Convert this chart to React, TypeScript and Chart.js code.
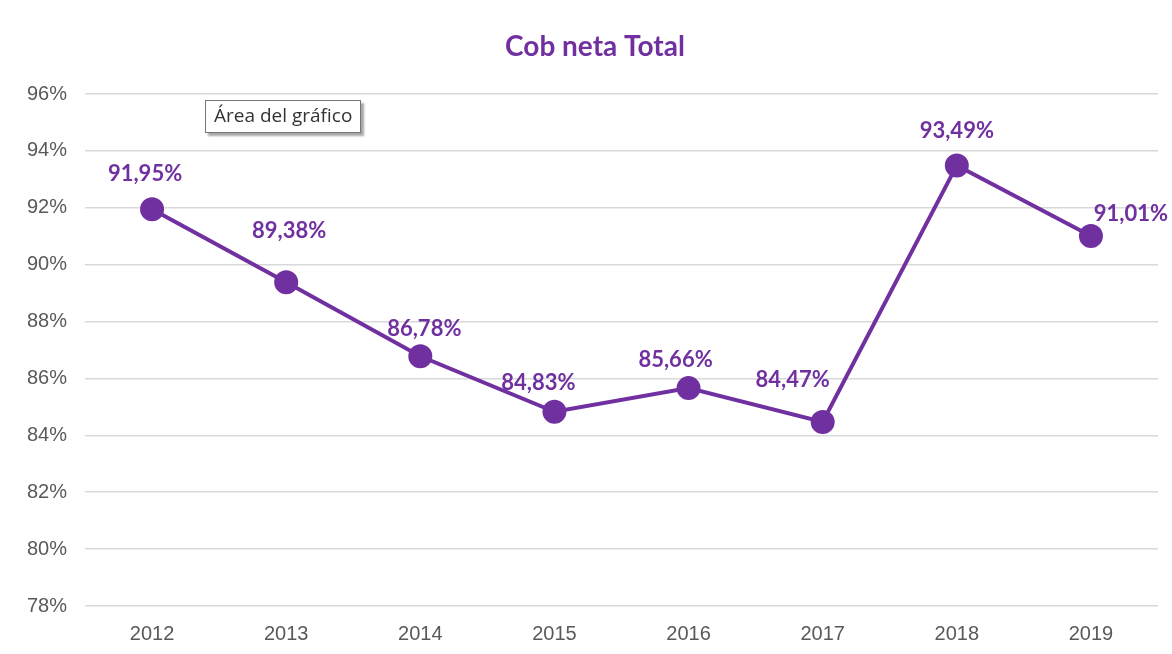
import React, { useEffect, useRef } from "react";
import { Chart, registerables } from "chart.js";

Chart.register(...registerables);

const years = ["2012", "2013", "2014", "2015", "2016", "2017", "2018", "2019"];
const coverage = [91.95, 89.38, 86.78, 84.83, 85.66, 84.47, 93.49, 91.01];
const labelDx = [-7, 3, 4, -16, -13, -30, 0, 40];
const labelDy = [-35, -51, -27, -29, -28, -42, -34, -22];

const PURPLE = "#7030A0";

const fmt = (v: number) => v.toFixed(2).replace(".", ",") + "%";

const labelPlugin = {
  id: "pointLabels",
  afterDatasetsDraw(chart: any) {
    const ctx = chart.ctx;
    const meta = chart.getDatasetMeta(0);
    ctx.save();
    ctx.font = "bold 22px Lato, 'Open Sans', sans-serif";
    ctx.fillStyle = PURPLE;
    ctx.textAlign = "center";
    ctx.textBaseline = "middle";
    meta.data.forEach((pt: any, i: number) => {
      ctx.fillText(fmt(coverage[i]), pt.x + labelDx[i], pt.y + labelDy[i]);
    });
    ctx.restore();
  },
};

const titlePlugin = {
  id: "customTitle",
  afterDraw(chart: any) {
    const ctx = chart.ctx;
    ctx.save();
    ctx.font = "bold 28px Lato, 'Open Sans', sans-serif";
    ctx.fillStyle = PURPLE;
    ctx.textAlign = "center";
    ctx.textBaseline = "middle";
    ctx.fillText("Cob neta Total", 595, 47);
    ctx.restore();
  },
};

export default function App() {
  const ref = useRef<HTMLCanvasElement>(null);
  useEffect(() => {
    document.body.style.margin = "0";
    const chart = new Chart(ref.current!, {
      type: "line",
      data: {
        labels: years,
        datasets: [
          {
            data: coverage,
            borderColor: PURPLE,
            backgroundColor: PURPLE,
            borderWidth: 4,
            pointRadius: 10,
            pointHoverRadius: 10,
            pointBackgroundColor: PURPLE,
            pointBorderColor: PURPLE,
            tension: 0,
          },
        ],
      },
      options: {
        animation: false,
        responsive: false,
        maintainAspectRatio: false,
        layout: { padding: { top: 94, right: 10, left: 0, bottom: 0 } },
        plugins: {
          legend: { display: false },
          title: { display: false },
          tooltip: { enabled: false },
        },
        scales: {
          x: {
            offset: true,
            grid: { display: false, drawTicks: false },
            border: { display: false },
            ticks: {
              color: "#595959",
              font: { size: 20, family: "'Liberation Sans', Arial, sans-serif" },
              padding: 16,
            },
            afterFit: (s: any) => {
              s.height = 48;
              s.paddingLeft = 0;
              s.paddingRight = 0;
            },
          },
          y: {
            min: 78,
            max: 96,
            grid: { color: "#d9d9d9", lineWidth: 1.5, drawTicks: false },
            border: { display: false },
            ticks: {
              stepSize: 2,
              color: "#595959",
              font: { size: 20, family: "'Liberation Sans', Arial, sans-serif" },
              padding: 18,
              callback: (v: any) => v + "%",
            },
            afterFit: (s: any) => {
              s.width = 85;
            },
          },
        },
      },
      plugins: [labelPlugin, titlePlugin],
    });
    return () => chart.destroy();
  }, []);
  return (
    <div style={{ position: "relative", width: 1172, height: 654, background: "#fff" }}>
      <canvas ref={ref} width={1172} height={654} style={{ display: "block" }} />
      <div
        style={{
          position: "absolute",
          left: 205,
          top: 100,
          padding: "1px 8px",
          height: 29,
          lineHeight: "29px",
          border: "1px solid #767676",
          background: "#fff",
          boxShadow: "3px 3px 2px rgba(0,0,0,0.35)",
          font: "19px 'Open Sans', 'Noto Sans', sans-serif",
          color: "#333",
          whiteSpace: "nowrap",
        }}
      >
        Área del gráfico
      </div>
    </div>
  );
}
